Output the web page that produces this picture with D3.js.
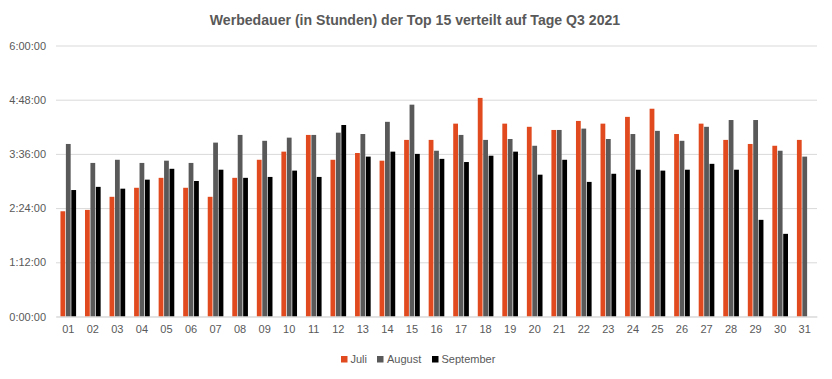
<!DOCTYPE html>
<html>
<head>
<meta charset="utf-8">
<script src="https://cdn.jsdelivr.net/npm/d3@7/dist/d3.min.js"></script>
<style>
  html, body { margin: 0; padding: 0; background: #fff; }
  svg { display: block; }
  text { font-family: "Liberation Sans", Arial, sans-serif; fill: #595959; }
</style>
</head>
<body>
<svg id="chart" width="832" height="379"></svg>
<script>
// Data (hours)
const days = ["01","02","03","04","05","06","07","08","09","10","11","12","13","14","15","16","17","18","19","20","21","22","23","24","25","26","27","28","29","30","31"];
const seriesNames = ["Juli","August","September"];
const juli = [2.33,2.36,2.65,2.85,3.07,2.85,2.65,3.07,3.47,3.65,4.02,3.47,3.62,3.45,3.91,3.91,4.27,4.84,4.27,4.20,4.13,4.33,4.27,4.42,4.60,4.04,4.27,3.91,3.82,3.78,3.91];
const august = [3.82,3.40,3.47,3.40,3.45,3.40,3.85,4.02,3.89,3.96,4.02,4.07,4.04,4.31,4.69,3.67,4.02,3.91,3.93,3.78,4.13,4.16,3.93,4.04,4.11,3.89,4.20,4.35,4.35,3.67,3.54];
const september = [2.80,2.87,2.83,3.03,3.27,3.00,3.25,3.07,3.09,3.23,3.09,4.24,3.54,3.65,3.60,3.49,3.42,3.56,3.65,3.14,3.47,2.98,3.16,3.25,3.23,3.25,3.38,3.25,2.14,1.83,null];
const yTicks = [0, 1.2, 2.4, 3.6, 4.8, 6.0];
const colors = ["#E04A1E", "#595959", "#000000"];
const title = "Werbedauer (in Stunden) der Top 15 verteilt auf Tage Q3 2021";

const svg = d3.select("#chart");
const mLeft = 56, mRight = 817, mTop = 45.5, mBottom = 316.5;

const x0 = d3.scaleBand().domain(days).range([mLeft, mRight]).padding(0);
const x1 = d3.scaleBand().domain(seriesNames).range([0, x0.bandwidth()]).paddingInner(0.12).paddingOuter(0.82);
const y = d3.scaleLinear().domain([0, 6]).range([mBottom, mTop]);

function fmt(h) {
  const total = Math.round(h * 3600);
  const hh = Math.floor(total / 3600);
  const mm = Math.floor((total % 3600) / 60);
  const ss = total % 60;
  return hh + ":" + String(mm).padStart(2, "0") + ":" + String(ss).padStart(2, "0");
}

// Title
svg.append("text")
  .attr("x", 415).attr("y", 25)
  .attr("text-anchor", "middle")
  .style("font-weight", "bold")
  .style("font-size", "14.1px")
  .text(title);

// Grid
const yAxis = d3.axisLeft(y).tickValues(yTicks).tickFormat(fmt).tickSize(-(mRight - mLeft)).tickPadding(10);
const gy = svg.append("g").attr("transform", `translate(${mLeft},0)`).call(yAxis);
gy.select(".domain").remove();
gy.selectAll(".tick line").attr("stroke", "#d9d9d9").attr("stroke-width", 1);
gy.selectAll(".tick text").style("font-size", "11px").attr("fill", "#595959");

// Bars
const seriesData = [juli, august, september];
seriesNames.forEach((name, si) => {
  svg.append("g").selectAll("rect")
    .data(days.map((d, i) => ({ day: d, v: seriesData[si][i] })).filter(d => d.v != null))
    .join("rect")
    .attr("x", d => x0(d.day) + x1(name))
    .attr("width", x1.bandwidth())
    .attr("y", d => y(d.v))
    .attr("height", d => y(0) - y(d.v))
    .attr("fill", colors[si]);
});

// X axis
const xAxis = d3.axisBottom(x0).tickSize(0).tickPadding(9);
const gx = svg.append("g").attr("transform", `translate(0,${mBottom})`).call(xAxis);
gx.select(".domain").attr("stroke", "#d9d9d9");
gx.selectAll(".tick text").style("font-size", "11px").attr("fill", "#595959");

// Legend
const legendItems = [
  { name: "Juli", sx: 341, tx: 350.5 },
  { name: "August", sx: 377, tx: 387 },
  { name: "September", sx: 432, tx: 441.5 }
];
const lg = svg.append("g");
legendItems.forEach((it, i) => {
  lg.append("rect").attr("x", it.sx).attr("y", 356).attr("width", 6.5).attr("height", 6.5).attr("fill", colors[i]);
  lg.append("text").attr("x", it.tx).attr("y", 363).style("font-size", "11px").text(it.name);
});
</script>
</body>
</html>
